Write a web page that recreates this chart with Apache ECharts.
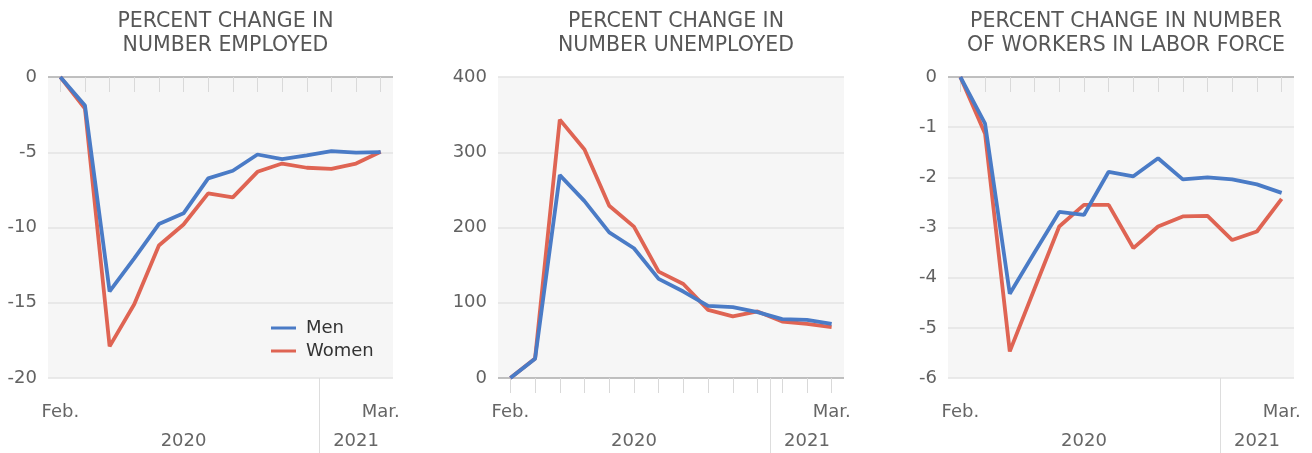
<!DOCTYPE html>
<html>
<head>
<meta charset="utf-8">
<script src="https://cdn.jsdelivr.net/npm/echarts@6/dist/echarts.min.js"></script>
<style>
  html, body { margin: 0; padding: 0; background: #ffffff; }
  #chart { width: 1312px; height: 453px; }
</style>
</head>
<body>
<div id="chart"></div>
<script>
// ---- data ----
const months = ['2020-02','2020-03','2020-04','2020-05','2020-06','2020-07','2020-08',
                '2020-09','2020-10','2020-11','2020-12','2021-01','2021-02','2021-03'];
const monthTickLabels = { '2020-02': 'Feb.', '2021-03': 'Mar.' };
const yearLabels = { '2020-07': '2020', '2021-02': '2021' };
const yearBoundary = 10.5; // between Dec. 2020 and Jan. 2021 (category index units)
const seriesNames = ['Men', 'Women'];

const titles = ['PERCENT CHANGE IN\nNUMBER EMPLOYED',
                'PERCENT CHANGE IN\nNUMBER UNEMPLOYED',
                'PERCENT CHANGE IN NUMBER\nOF WORKERS IN LABOR FORCE'];

const employedMen   = [0, -1.9, -14.25, -12.05, -9.77, -9.06, -6.74, -6.23, -5.15, -5.46, -5.2, -4.93, -5.02, -4.99];
const employedWomen = [0, -2.1, -17.9, -15.1, -11.2, -9.8, -7.73, -8.0, -6.3, -5.75, -6.03, -6.1, -5.75, -4.97];

const unemployedMen   = [0, 25.6, 269.6, 235, 193.5, 172.4, 131.7, 114.9, 95.9, 94.1, 87.5, 78.2, 77.3, 72];
const unemployedWomen = [0, 26, 343.4, 303.6, 228.9, 201.1, 141.4, 125, 90.6, 81.8, 88.4, 75.1, 72, 67.6];

const laborMen   = [0, -0.93, -4.32, -3.5, -2.69, -2.75, -1.89, -1.98, -1.62, -2.04, -2.0, -2.04, -2.14, -2.31];
const laborWomen = [0, -1.13, -5.47, -4.22, -2.98, -2.55, -2.55, -3.41, -2.98, -2.78, -2.77, -3.25, -3.08, -2.43];

const yMin = [-20, 0, -6];
const yMax = [0, 400, 0];
const yInterval = [5, 100, 1];

// ---- styling ----
const BLUE = '#4a7bc6';
const RED = '#df6453';
const FONT = 'DejaVu Sans';
const grids = [
  { left: 48, width: 345, top: 77, height: 301 },
  { left: 498, width: 346, top: 77, height: 301 },
  { left: 948, width: 346, top: 77, height: 301 }
];
const panelData = [
  [employedMen, employedWomen],
  [unemployedMen, unemployedWomen],
  [laborMen, laborWomen]
];

const option = {
  animation: false,
  backgroundColor: '#ffffff',
  textStyle: { fontFamily: FONT },
  title: grids.map((g, i) => ({
    text: titles[i],
    left: g.left + g.width / 2,
    top: 5,
    textAlign: 'center',
    textStyle: { fontFamily: FONT, fontSize: 20.5, fontWeight: 'normal', color: '#575757', lineHeight: 24 }
  })),
  legend: {
    data: seriesNames,
    orient: 'vertical',
    left: 271,
    top: 319,
    padding: 0,
    itemWidth: 25,
    itemHeight: 3,
    itemGap: 5,
    icon: 'rect',
    textStyle: { fontFamily: FONT, fontSize: 18, color: '#333333', padding: [0, 0, 0, 5] }
  },
  grid: grids.map(g => ({
    left: g.left, width: g.width, top: g.top, height: g.height,
    show: true, backgroundColor: '#f6f6f6', borderWidth: 0, containLabel: false
  })),
  xAxis: [],
  yAxis: [],
  series: []
};

grids.forEach((g, i) => {
  // main month axis: ticks at points, Feb./Mar. labels
  option.xAxis.push({
    type: 'category', gridIndex: i, data: months, boundaryGap: true, position: 'bottom',
    axisLine: { show: false },
    axisTick: { show: true, alignWithLabel: true, interval: 0, length: 15, lineStyle: { color: '#d9d9d9', width: 1 } },
    axisLabel: {
      interval: 0, margin: 25, fontFamily: FONT, fontSize: 18, color: '#666666',
      formatter: v => monthTickLabels[v] || ''
    },
    splitLine: { show: false }
  });
  // year labels
  option.xAxis.push({
    type: 'category', gridIndex: i, data: months, boundaryGap: true, position: 'bottom',
    axisLine: { show: false }, axisTick: { show: false },
    axisLabel: {
      interval: 0, margin: 54, fontFamily: FONT, fontSize: 18, color: '#666666',
      formatter: v => yearLabels[v] || ''
    },
    splitLine: { show: false }
  });
  // year separator (value axis in category-index units)
  option.xAxis.push({
    type: 'value', gridIndex: i, min: -0.5, max: months.length - 0.5, position: 'bottom',
    axisLine: { show: false },
    axisTick: { show: true, customValues: [yearBoundary], length: 75, lineStyle: { color: '#dddddd', width: 1 } },
    axisLabel: { show: false },
    splitLine: { show: false }
  });
  const nLines = Math.round((yMax[i] - yMin[i]) / yInterval[i]) + 1;
  const splitColors = [];
  for (let k = 0; k < nLines; k++) {
    const val = yMin[i] + k * yInterval[i];
    splitColors.push(val === 0 ? '#ababab' : '#e3e3e3');
  }
  option.yAxis.push({
    type: 'value', gridIndex: i, min: yMin[i], max: yMax[i], interval: yInterval[i],
    axisLine: { show: false }, axisTick: { show: false },
    axisLabel: { margin: 11, fontFamily: FONT, fontSize: 18, color: '#626262' },
    splitLine: { show: true, lineStyle: { color: splitColors, width: 1.5 } }
  });
  const [menVals, womenVals] = panelData[i];
  option.series.push({
    name: 'Women', type: 'line', xAxisIndex: i * 3, yAxisIndex: i, data: womenVals,
    symbol: 'none', lineStyle: { color: RED, width: 3.8 }, itemStyle: { color: RED }, z: 3
  });
  option.series.push({
    name: 'Men', type: 'line', xAxisIndex: i * 3, yAxisIndex: i, data: menVals,
    symbol: 'none', lineStyle: { color: BLUE, width: 3.8 }, itemStyle: { color: BLUE }, z: 4
  });
});

const chart = echarts.init(document.getElementById('chart'), null, { renderer: 'canvas' });
chart.setOption(option);
</script>
</body>
</html>
